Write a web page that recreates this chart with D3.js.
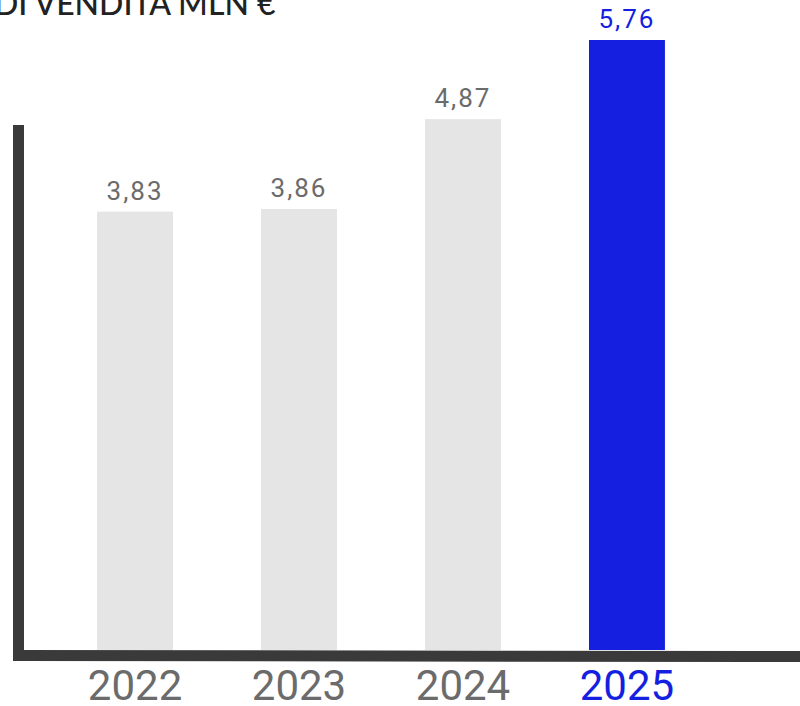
<!DOCTYPE html>
<html>
<head>
<meta charset="utf-8">
<script src="https://cdn.jsdelivr.net/npm/d3@7"></script>
<style>
  html, body { margin: 0; padding: 0; background: #fff; overflow: hidden; }
  svg { display: block; }
</style>
</head>
<body>
<svg id="chart" width="800" height="706"></svg>
<script>
// data
const years = ["2022", "2023", "2024", "2025"];
const values = [3.83, 3.86, 4.87, 5.76];
const valueLabels = ["3,83", "3,86", "4,87", "5,76"];
const titleText = "DI VENDITA MLN €";

const grey = "#e5e5e5";
const blue = "#141fe0";
const axisColor = "#3a3a3a";
const labelGrey = "#6b6b6b";

const svg = d3.select("#chart");

const x = d3.scaleBand()
    .domain(years)
    .range([20, 742])
    .paddingInner(0.537)
    .paddingOuter(0.47);

// the picture's bars are not drawn from zero, so the scale starts below it
const yMin = -1.1;
const y = d3.scaleLinear()
    .domain([yMin, 5.76])
    .range([650, 40]);

const data = years.map((yr, i) => ({ year: yr, value: values[i], label: valueLabels[i] }));
const isLast = d => d.year === years[years.length - 1];

// title, cut off by the top edge
svg.append("text")
    .attr("x", -6)
    .attr("y", 15)
    .attr("font-family", "Lato, 'Open Sans', sans-serif")
    .attr("font-size", 32)
    .attr("font-weight", 500)
    .attr("fill", "#222")
    .text(titleText);

// bars
svg.selectAll(".bar")
    .data(data)
    .enter().append("rect")
    .attr("class", "bar")
    .attr("x", d => x(d.year))
    .attr("y", d => y(d.value))
    .attr("width", x.bandwidth())
    .attr("height", d => y(yMin) - y(d.value))
    .attr("fill", d => isLast(d) ? blue : grey);

// value labels
svg.selectAll(".val")
    .data(data)
    .enter().append("text")
    .attr("class", "val")
    .attr("x", d => x(d.year) + x.bandwidth() / 2)
    .attr("y", d => y(d.value) - 12)
    .attr("text-anchor", "middle")
    .attr("font-family", "Roboto, sans-serif")
    .attr("font-size", 26)
    .attr("letter-spacing", 2)
    .attr("fill", d => isLast(d) ? blue : labelGrey)
    .text(d => d.label);

// x axis with year labels
const xAxis = svg.append("g")
    .attr("transform", "translate(0,655)")
    .call(d3.axisBottom(x).tickSize(0).tickPadding(15));
xAxis.select(".domain").remove();
xAxis.selectAll(".tick text")
    .attr("font-family", "Roboto, sans-serif")
    .attr("font-size", 42)
    .attr("fill", d => d === "2025" ? blue : labelGrey);

// thick axis lines
svg.append("line")
    .attr("x1", 13).attr("x2", 800)
    .attr("y1", 655.5).attr("y2", 656.5)
    .attr("stroke", axisColor)
    .attr("stroke-width", 11);

svg.append("line")
    .attr("x1", 18.5).attr("x2", 18.5)
    .attr("y1", 125).attr("y2", 661)
    .attr("stroke", axisColor)
    .attr("stroke-width", 11);
</script>
</body>
</html>
